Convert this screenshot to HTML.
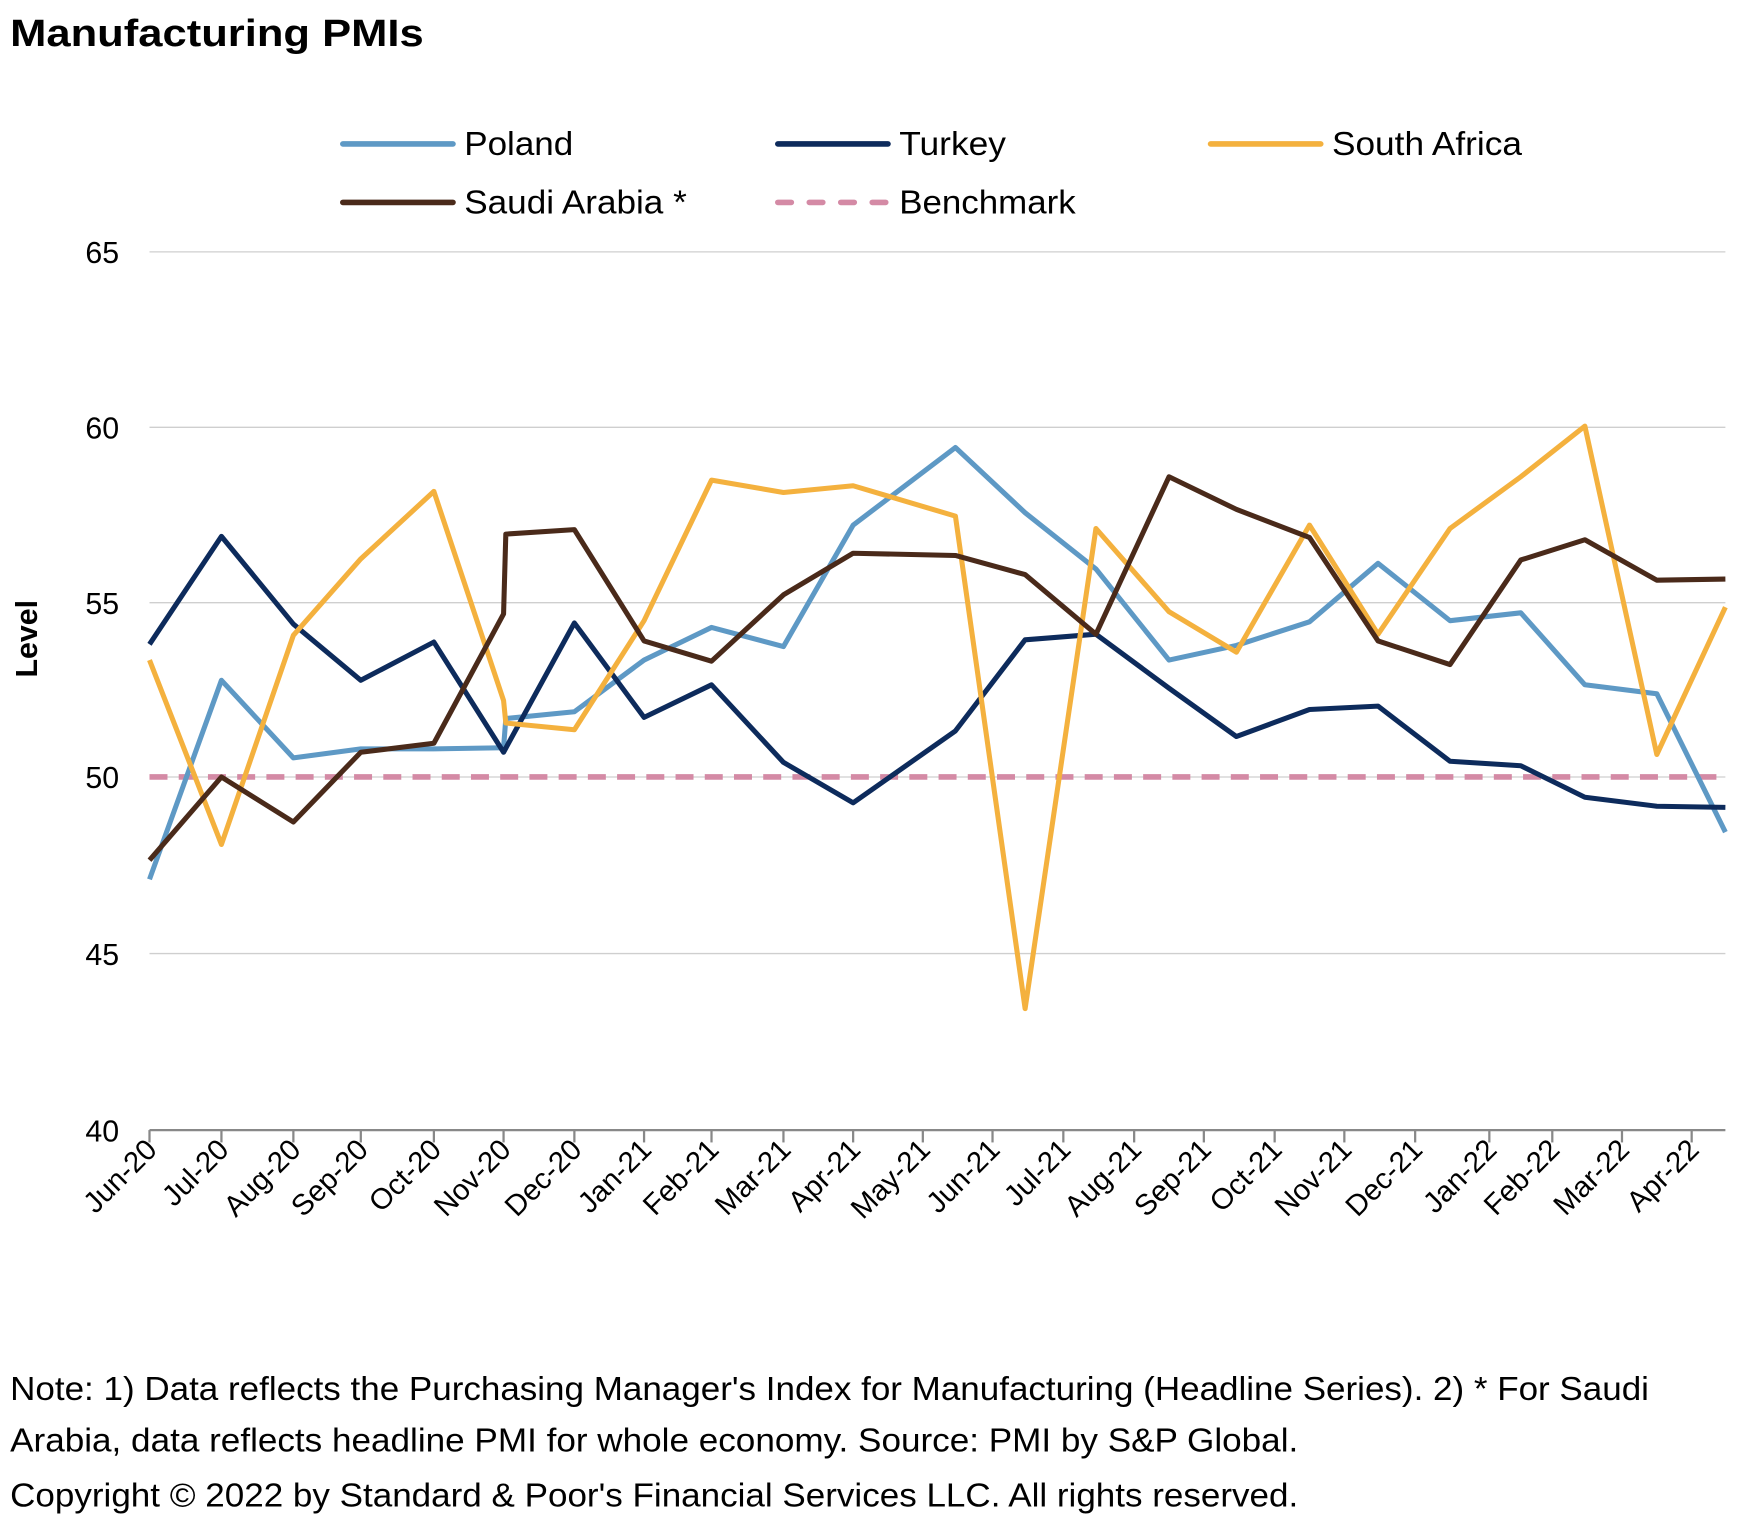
<!DOCTYPE html>
<html><head><meta charset="utf-8"><style>
html,body{margin:0;padding:0;background:#fff;}
svg{display:block;}
text{font-family:"Liberation Sans",Arial,sans-serif;fill:#000;}
</style></head><body>
<svg width="1740" height="1518" viewBox="0 0 1548 1350" preserveAspectRatio="none" xmlns="http://www.w3.org/2000/svg">
<rect width="1548" height="1350" fill="#fff"/>
<text x="9" y="41" font-size="34" font-weight="bold" textLength="368" lengthAdjust="spacingAndGlyphs">Manufacturing PMIs</text>
<!-- legend -->
<g stroke-width="5" stroke-linecap="round" fill="none">
<line x1="305" y1="128" x2="403" y2="128" stroke="#5e99c5"/>
<line x1="692" y1="128" x2="790" y2="128" stroke="#0d2b5c"/>
<line x1="1077" y1="128" x2="1175" y2="128" stroke="#f4b13e"/>
<line x1="305" y1="180" x2="403" y2="180" stroke="#4a2a1a"/>
<line x1="692" y1="180" x2="790" y2="180" stroke="#d48aa5" stroke-dasharray="12 16"/>
</g>
<g font-size="30">
<text x="413" y="138" textLength="97" lengthAdjust="spacingAndGlyphs">Poland</text>
<text x="800" y="138" textLength="95" lengthAdjust="spacingAndGlyphs">Turkey</text>
<text x="1185" y="138" textLength="169" lengthAdjust="spacingAndGlyphs">South Africa</text>
<text x="413" y="190" textLength="198" lengthAdjust="spacingAndGlyphs">Saudi Arabia *</text>
<text x="800" y="190" textLength="157" lengthAdjust="spacingAndGlyphs">Benchmark</text>
</g>
<!-- grid -->
<g stroke="#cfcfcf" stroke-width="1.2">
<line x1="133" y1="224" x2="1535" y2="224"/>
<line x1="133" y1="380" x2="1535" y2="380"/>
<line x1="133" y1="536" x2="1535" y2="536"/>
<line x1="133" y1="691" x2="1535" y2="691"/>
<line x1="133" y1="848" x2="1535" y2="848"/>
</g>
<line x1="133" y1="1005" x2="1535" y2="1005" stroke="#888" stroke-width="2"/>
<g stroke="#888" stroke-width="2">
<line x1="133" y1="1005" x2="133" y2="1016"/><line x1="197" y1="1005" x2="197" y2="1016"/><line x1="261" y1="1005" x2="261" y2="1016"/><line x1="321" y1="1005" x2="321" y2="1016"/><line x1="386" y1="1005" x2="386" y2="1016"/><line x1="448" y1="1005" x2="448" y2="1016"/><line x1="511" y1="1005" x2="511" y2="1016"/><line x1="573" y1="1005" x2="573" y2="1016"/><line x1="633" y1="1005" x2="633" y2="1016"/><line x1="697" y1="1005" x2="697" y2="1016"/><line x1="759" y1="1005" x2="759" y2="1016"/><line x1="821" y1="1005" x2="821" y2="1016"/><line x1="883" y1="1005" x2="883" y2="1016"/><line x1="946" y1="1005" x2="946" y2="1016"/><line x1="1009" y1="1005" x2="1009" y2="1016"/><line x1="1071" y1="1005" x2="1071" y2="1016"/><line x1="1134" y1="1005" x2="1134" y2="1016"/><line x1="1196" y1="1005" x2="1196" y2="1016"/><line x1="1259" y1="1005" x2="1259" y2="1016"/><line x1="1325" y1="1005" x2="1325" y2="1016"/><line x1="1381" y1="1005" x2="1381" y2="1016"/><line x1="1443" y1="1005" x2="1443" y2="1016"/><line x1="1505" y1="1005" x2="1505" y2="1016"/>
</g>
<g font-size="27" text-anchor="end">
<text x="106" y="234">65</text><text x="106" y="390">60</text><text x="106" y="546">55</text><text x="106" y="701">50</text><text x="106" y="858">45</text><text x="106" y="1015">40</text>
</g>
<text transform="translate(33,568) rotate(-90)" font-size="27" font-weight="bold" text-anchor="middle">Level</text>
<g font-size="26" text-anchor="end">
<text transform="translate(141,1024) rotate(-45)">Jun-20</text>
<text transform="translate(205,1024) rotate(-45)">Jul-20</text>
<text transform="translate(269,1024) rotate(-45)">Aug-20</text>
<text transform="translate(329,1024) rotate(-45)">Sep-20</text>
<text transform="translate(394,1024) rotate(-45)">Oct-20</text>
<text transform="translate(456,1024) rotate(-45)">Nov-20</text>
<text transform="translate(519,1024) rotate(-45)">Dec-20</text>
<text transform="translate(581,1024) rotate(-45)">Jan-21</text>
<text transform="translate(641,1024) rotate(-45)">Feb-21</text>
<text transform="translate(705,1024) rotate(-45)">Mar-21</text>
<text transform="translate(767,1024) rotate(-45)">Apr-21</text>
<text transform="translate(829,1024) rotate(-45)">May-21</text>
<text transform="translate(891,1024) rotate(-45)">Jun-21</text>
<text transform="translate(954,1024) rotate(-45)">Jul-21</text>
<text transform="translate(1017,1024) rotate(-45)">Aug-21</text>
<text transform="translate(1079,1024) rotate(-45)">Sep-21</text>
<text transform="translate(1142,1024) rotate(-45)">Oct-21</text>
<text transform="translate(1204,1024) rotate(-45)">Nov-21</text>
<text transform="translate(1267,1024) rotate(-45)">Dec-21</text>
<text transform="translate(1333,1024) rotate(-45)">Jan-22</text>
<text transform="translate(1389,1024) rotate(-45)">Feb-22</text>
<text transform="translate(1451,1024) rotate(-45)">Mar-22</text>
<text transform="translate(1513,1024) rotate(-45)">Apr-22</text>
</g>
<!-- series -->
<line x1="133" y1="691" x2="1535" y2="691" stroke="#d48aa5" stroke-width="5" stroke-dasharray="16 10"/>
<g fill="none" stroke-width="4.5" stroke-linejoin="round">
<polyline stroke="#5e99c5" points="133,782 197,605 261,674 321,666 386,666 448,665 450,639 511,633 573,587 633,558 697,575 759,467 850,398 912,456 975,506 1040,587 1100,574 1165,553 1226,501 1290,552 1353,545 1410,609 1474,617 1535,740"/>
<polyline stroke="#0d2b5c" points="133,573 197,477 261,555 321,605 386,571 448,669 511,554 573,638 633,609 697,678 759,714 850,650 912,569 975,564 1040,612 1100,655 1165,631 1226,628 1290,677 1353,681 1410,709 1474,717 1535,718"/>
<polyline stroke="#f4b13e" points="133,587 197,751 261,565 321,497 386,437 448,623 450,643 511,649 573,552 633,427 697,438 759,432 850,459 912,897 975,470 1040,544 1100,580 1165,467 1226,564 1290,470 1353,424 1410,379 1474,671 1535,540"/>
<polyline stroke="#4a2a1a" points="133,765 197,691 261,731 321,669 386,661 448,546 450,475 511,471 573,570 633,588 697,529 759,492 850,494 912,511 975,564 1040,424 1100,453 1165,478 1226,570 1290,591 1353,498 1410,480 1474,516 1535,515"/>
</g>
<g font-size="30">
<text x="9" y="1245" textLength="1458" lengthAdjust="spacingAndGlyphs">Note: 1) Data reflects the Purchasing Manager's Index for Manufacturing (Headline Series). 2) * For Saudi</text>
<text x="9" y="1291" textLength="1146" lengthAdjust="spacingAndGlyphs">Arabia, data reflects headline PMI for whole economy. Source: PMI by S&amp;P Global.</text>
<text x="9" y="1340" textLength="1146" lengthAdjust="spacingAndGlyphs">Copyright © 2022 by Standard &amp; Poor's Financial Services LLC. All rights reserved.</text>
</g>
</svg>
</body></html>
